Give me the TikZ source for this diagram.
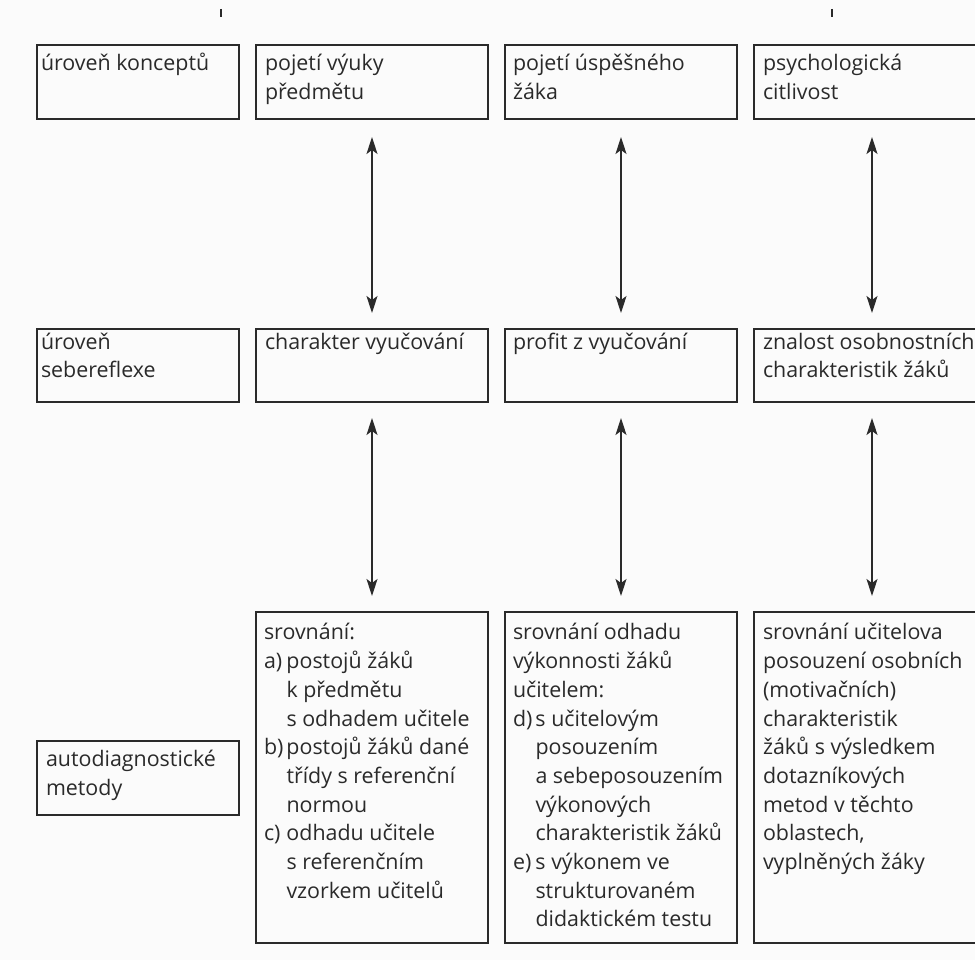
\documentclass[tikz,border=0pt]{standalone}
\usepackage{fontspec}
\setmainfont{Open Sans}
\usetikzlibrary{arrows.meta}
\definecolor{ink}{HTML}{2A2A2A}
\definecolor{paper}{HTML}{FBFBFB}
\newcommand{\lab}[1]{\makebox[22.5pt][l]{#1}}
\newcommand{\ind}{\hspace*{22.5pt}}
\begin{document}
\begin{tikzpicture}[x=1pt,y=-1pt,
  frame/.style={draw=ink, line width=1.6pt, inner sep=0pt, outer sep=0pt, anchor=north west},
  txt/.style={text=ink, inner sep=0pt, outer sep=0pt, anchor=north west, align=left,
    font=\fontsize{21.4}{28.7}\selectfont},
  arr/.style={draw=ink, line width=1.3pt,
    {Stealth[length=17pt,width=11pt,inset=4pt]}-{Stealth[length=17pt,width=11pt,inset=4pt]}},
  tick/.style={draw=ink, line width=2pt}]
\clip (0,0) rectangle (975,960);
\fill[paper] (0,0) rectangle (975,960);
% tick remnants at top
\coordinate (k1a) at (221,9); \coordinate (k1b) at (221,17);
\coordinate (k2a) at (832,9); \coordinate (k2b) at (832,17);
\draw[tick] (k1a) -- (k1b);
\draw[tick] (k2a) -- (k2b);
% row 1
\node[frame, minimum width=202, minimum height=74] (b11) at (37,45) {};
\node[frame, minimum width=232, minimum height=74] (b12) at (256,45) {};
\node[frame, minimum width=232, minimum height=74] (b13) at (505,45) {};
\node[frame, minimum width=236, minimum height=74] (b14) at (754,45) {};
% row 2
\node[frame, minimum width=202, minimum height=73] (b21) at (37,329) {};
\node[frame, minimum width=232, minimum height=73] (b22) at (256,329) {};
\node[frame, minimum width=232, minimum height=73] (b23) at (505,329) {};
\node[frame, minimum width=236, minimum height=73] (b24) at (754,329) {};
% row 3
\node[frame, minimum width=202, minimum height=74] (b31) at (37,741) {};
\node[frame, minimum width=232, minimum height=331] (b32) at (256,612) {};
\node[frame, minimum width=232, minimum height=331] (b33) at (505,612) {};
\node[frame, minimum width=236, minimum height=331] (b34) at (754,612) {};
% texts row 1
\node[txt] (t11) at ([xshift=4pt,yshift=-5.9pt]b11.north west) {\strut úroveň konceptů};
\node[txt] (t12) at ([xshift=9pt,yshift=-5.9pt]b12.north west) {\strut pojetí výuky\\předmětu};
\node[txt] (t13) at ([xshift=8pt,yshift=-5.9pt]b13.north west) {\strut pojetí úspěšného\\žáka};
\node[txt] (t14) at ([xshift=9pt,yshift=-5.9pt]b14.north west) {\strut psychologická\\citlivost};
% texts row 2
\node[txt] (t21) at ([xshift=4pt,yshift=0pt]b21.north west) {\strut úroveň\\sebereflexe};
\node[txt] (t22) at ([xshift=9pt,yshift=0pt]b22.north west) {\strut charakter vyučování};
\node[txt] (t23) at ([xshift=8pt,yshift=0pt]b23.north west) {\strut profit z vyučování};
\node[txt] (t24) at ([xshift=9pt,yshift=0pt]b24.north west) {\strut znalost osobnostních\\charakteristik žáků};
% texts row 3
\node[txt] (t31) at ([xshift=9pt,yshift=-5.9pt]b31.north west) {\strut autodiagnostické\\metody};
\node[txt] (t32) at ([xshift=8pt,yshift=-7.9pt]b32.north west) {\strut srovnání:\\
\lab{a)}postojů žáků\\\ind k předmětu\\\ind s odhadem učitele\\
\lab{b)}postojů žáků dané\\\ind třídy s referenční\\\ind normou\\
\lab{c)}odhadu učitele\\\ind s referenčním\\\ind vzorkem učitelů};
\node[txt] (t33) at ([xshift=8pt,yshift=-7.9pt]b33.north west) {\strut srovnání odhadu\\výkonnosti žáků\\učitelem:\\
\lab{d)}s učitelovým\\\ind posouzením\\\ind a sebeposouzením\\\ind výkonových\\\ind charakteristik žáků\\
\lab{e)}s výkonem ve\\\ind strukturovaném\\\ind didaktickém testu};
\node[txt] (t34) at ([xshift=9pt,yshift=-7.9pt]b34.north west) {\strut srovnání učitelova\\posouzení osobních\\(motivačních)\\charakteristik\\žáků s výsledkem\\dotazníkových\\metod v těchto\\oblastech,\\vyplněných žáky};
% arrows
\draw[arr, shorten <=18pt, shorten >=16pt] (b12.south) -- (b22.north);
\draw[arr, shorten <=18pt, shorten >=16pt] (b13.south) -- (b23.north);
\draw[arr, shorten <=18pt, shorten >=16pt] (b14.south) -- (b24.north);
\draw[arr, shorten <=16pt, shorten >=16pt] (b22.south) -- (b32.north);
\draw[arr, shorten <=16pt, shorten >=16pt] (b23.south) -- (b33.north);
\draw[arr, shorten <=16pt, shorten >=16pt] (b24.south) -- (b34.north);
\end{tikzpicture}
\end{document}
